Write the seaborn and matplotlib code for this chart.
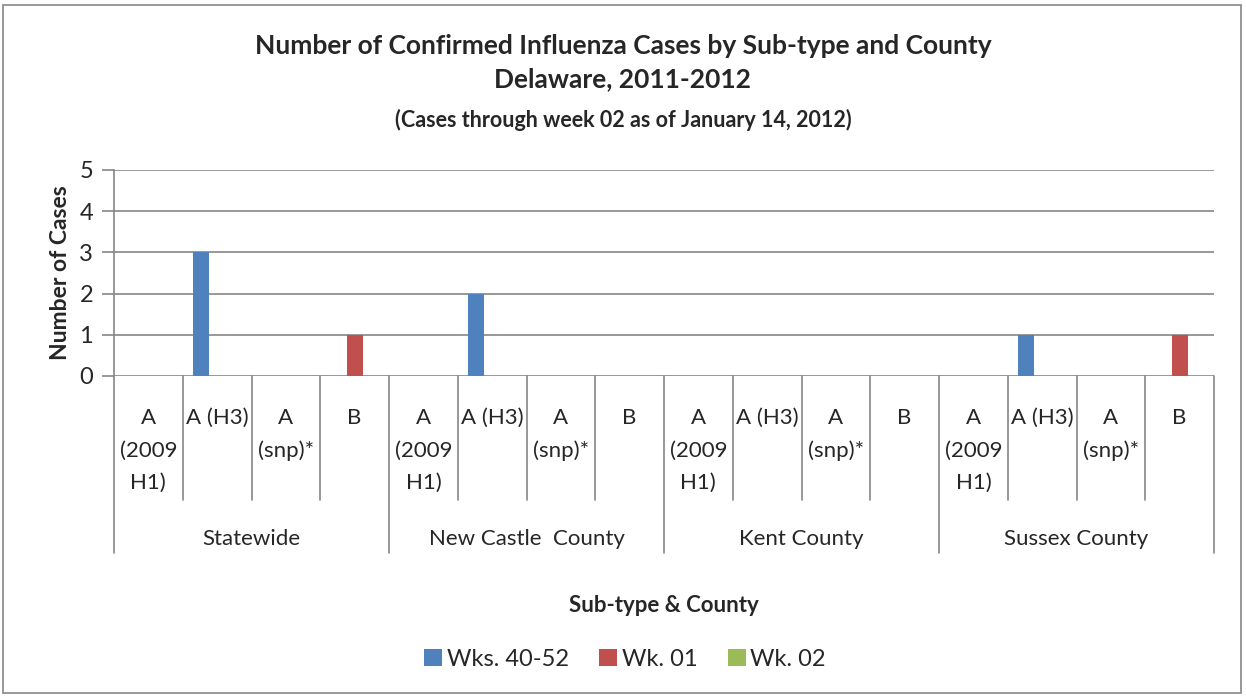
import pandas as pd
import seaborn as sns
import matplotlib.pyplot as plt
from matplotlib.patches import Rectangle
from matplotlib.transforms import blended_transform_factory

# data
counties = ["Statewide", "New Castle  County", "Kent County", "Sussex County"]
subtypes = ["A\n(2009\nH1)", "A (H3)", "A\n(snp)*", "B"]
series = ["Wks. 40-52", "Wk. 01", "Wk. 02"]
wks_40_52 = [0, 3, 0, 0, 0, 2, 0, 0, 0, 0, 0, 0, 0, 1, 0, 0]
wk_01 = [0, 0, 0, 1, 0, 0, 0, 0, 0, 0, 0, 0, 0, 0, 0, 1]
wk_02 = [0, 0, 0, 0, 0, 0, 0, 0, 0, 0, 0, 0, 0, 0, 0, 0]

colors = ["#4F81BD", "#C0504D", "#9BBB59"]
grid_col = "#868686"

keys = [f"{c}|{s}" for c in counties for s in subtypes]
rows = []
for vals, name in zip([wks_40_52, wk_01, wk_02], series):
    for k, v in zip(keys, vals):
        rows.append({"cat": k, "series": name, "cases": v})
df = pd.DataFrame(rows)

sns.set_style("white")
plt.rcParams["font.family"] = ["Lato", "DejaVu Sans"]

fig = plt.figure(figsize=(12.46, 6.96), dpi=100)
ax = fig.add_axes([114 / 1246, 1 - 376 / 696, 1100 / 1246, 206 / 696])

sns.barplot(data=df, x="cat", y="cases", hue="series", order=keys,
            hue_order=series, palette=colors, saturation=1, width=0.7, gap=0,
            linewidth=0, ax=ax)

ax.set_xlim(-0.5, len(keys) - 0.5)
ax.set_ylim(0, 5)
ax.set_yticks(range(6))
ax.set_yticklabels([str(i) for i in range(6)], fontsize=17)
ax.yaxis.grid(True, color=grid_col, linewidth=1.2)
ax.set_axisbelow(True)
ax.tick_params(axis="y", length=9, width=1.2, color=grid_col, left=True, pad=6)
ax.set_xticks([])
ax.set_xlabel("")
ax.set_ylabel("Number of Cases", fontsize=16.5, fontweight="bold", labelpad=6)
for side in ["top", "right", "bottom"]:
    ax.spines[side].set_visible(False)
ax.spines["left"].set_color(grid_col)
ax.spines["left"].set_linewidth(1.2)

# multi-level category axis
tr = blended_transform_factory(ax.transData, ax.transAxes)
for i in range(len(keys) + 1):
    bottom = -0.859 if i % 4 == 0 else -0.602
    ax.plot([i - 0.5, i - 0.5], [0, bottom], color=grid_col, lw=1.2,
            transform=tr, clip_on=False)
for i, k in enumerate(keys):
    ax.text(i, -0.155, subtypes[i % 4], transform=tr, ha="center", va="top",
            fontsize=16, linespacing=1.78)
for j, c in enumerate(counties):
    ax.text(j * 4 + 1.5, -0.79, c, transform=tr, ha="center", va="center",
            fontsize=16)

fig.text(0.5, 1 - 46 / 696, "Number of Confirmed Influenza Cases by Sub-type and County",
         ha="center", va="center", fontsize=19, fontweight="bold")
fig.text(0.5, 1 - 79 / 696, "Delaware, 2011-2012",
         ha="center", va="center", fontsize=19, fontweight="bold")
fig.text(0.5, 1 - 120 / 696, "(Cases through week 02 as of January 14, 2012)",
         ha="center", va="center", fontsize=15.5, fontweight="bold")
fig.text(664 / 1246, 1 - 605 / 696, "Sub-type & County",
         ha="center", va="center", fontsize=16, fontweight="bold")

handles, labels = ax.get_legend_handles_labels()
ax.legend(handles, labels, loc="center", bbox_to_anchor=(625 / 1246, 1 - 659 / 696),
          bbox_transform=fig.transFigure, ncol=3, frameon=False, fontsize=17,
          handlelength=0.75, handleheight=0.75, handletextpad=0.2, columnspacing=1.3)

fig.add_artist(Rectangle((3 / 1246, 3 / 696), 1238 / 1246, 688 / 696,
                         transform=fig.transFigure, fill=False,
                         edgecolor=grid_col, linewidth=1.2))

fig.savefig("out.png", dpi=100)
